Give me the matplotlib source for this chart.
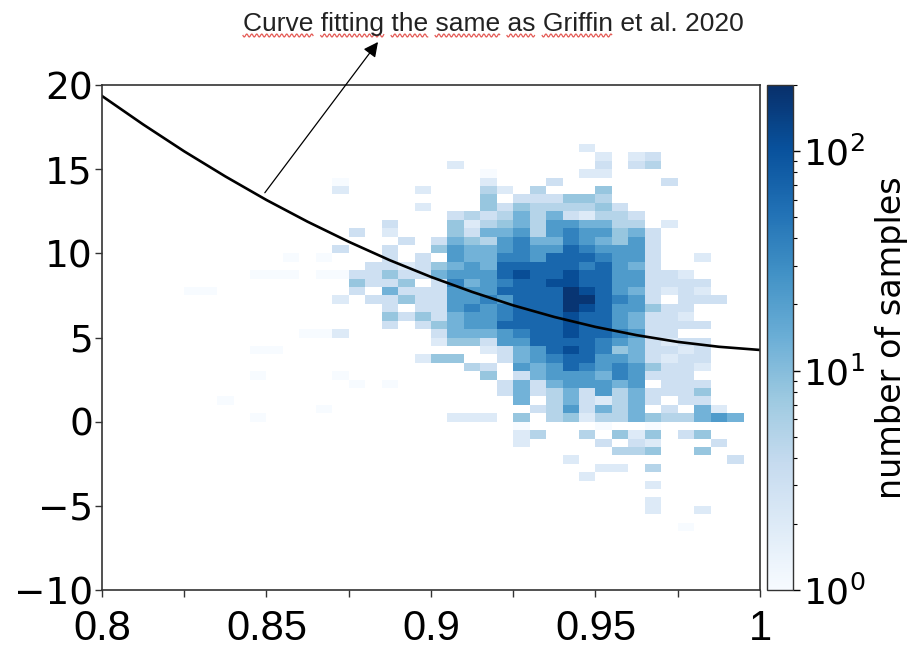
import numpy as np
import matplotlib
matplotlib.use("Agg")
import matplotlib.pyplot as plt
from matplotlib.colors import LogNorm
from matplotlib.lines import Line2D
from matplotlib.textpath import TextToPath
from matplotlib.font_manager import FontProperties

# histogram grid: 40 bins of 0.005 in x, 60 bins of 0.5 in y
x_edges = np.linspace(0.8, 1.0, 41)
y_edges = np.linspace(-10, 20, 61)

# cell levels -> number of samples
level_counts = {'.': 0, '1': 1, '2': 2, '3': 3, '4': 5, '5': 8, '6': 13,
                '7': 22, '8': 38, '9': 65, 'A': 110, 'B': 180}

# one row per y-bin, from y=16..16.5 down to y=-6.5..-6,
# written as four groups of ten x-bins
hist_rows = [
    ".......... .......... .........2 ..........",
    ".......... .......... .......... 2.23......",
    ".......... .......... .2........ 3.34......",
    ".......... .......... ...1.....2 2.........",
    ".......... ....1..... ...2...3.. ....3.....",
    ".......... ....2....2 ...42.4... 5.........",
    ".......... .......... ...5.33355 4.........",
    ".......... .........2 ...5354444 53........",
    ".......... .......... .343464632 443.......",
    ".......... .......3.. .524564776 644.2.....",
    ".......... .....3.2.. .536674787 7563......",
    ".......... ........3. 3654786687 6573......",
    ".......... ....3..3.. 5766787798 7773......",
    ".......... .1.1...3.3 .766887999 8773..2...",
    ".......... ......3323 5676999998 9763......",
    ".........1 11.1133533 67779A99A9 977332....",
    ".......... .....5335. 3867899AA9 9773333...",
    ".....11... .....3.633 37779999BA 9763232...",
    ".......... ....2.3353 37787999BB 9873.333..",
    ".......... .......3.3 37878999BA 977533....",
    ".......... .......535 36778999A9 976332....",
    ".......... .......3.3 56779999A9 9763333...",
    ".......... ..112..... 36667899A9 98733.....",
    ".......... .......... 2553779999 8763233...",
    ".........1 1......... ...23679A9 8563323...",
    ".......... .........2 55..367899 7763233...",
    ".......... .......... ..43.76798 7875332...",
    ".........1 ....1..... ...5.36777 687333....",
    ".......... .....1.1.. ....363677 767.333...",
    ".......... .......... ....363463 7463335...",
    ".......1.. .......... .....6.463 2463.33...",
    ".......... ...1...... ......3473 646.3.62..",
    ".........1 .......... .222.5.452 446544676.",
    ".......... .......... .....1.... 1..1......",
    ".......... .......... .....24..4 .525.35...",
    ".......... .......... .....2.... 3.32...3..",
    ".......... .......... .......... .445..5...",
    ".......... .......... ........2. ........3.",
    ".......... .......... .......... 22.4......",
    ".......... .......... .........2 ..........",
    ".......... .......... .......... ...2......",
    ".......... .......... .......... ..........",
    ".......... .......... .......... ...2......",
    ".......... .......... .......... ...2..2...",
    ".......... .......... .......... ..........",
    ".......... .......... .......... .....1....",
]

curve_x = [0.8, 0.8125, 0.825, 0.8375, 0.85, 0.8625, 0.875, 0.8875, 0.9,
           0.9125, 0.925, 0.9375, 0.95, 0.9625, 0.975, 0.9875, 1.0]
curve_y = [19.35, 17.66, 16.06, 14.57, 13.17, 11.88, 10.69, 9.59, 8.60,
           7.71, 6.91, 6.22, 5.63, 5.14, 4.74, 4.45, 4.26]

x_ticks = [0.8, 0.85, 0.9, 0.95, 1.0]
x_ticklabels = ['0.8', '0.85', '0.9', '0.95', '1']
x_minor = [0.825, 0.875, 0.925, 0.975]
y_ticks = [-10, -5, 0, 5, 10, 15, 20]

note = "Curve fitting the same as Griffin et al. 2020"
flagged_words = ["Curve", "fitting", "the", "same", "as", "Griffin"]

counts = np.zeros((len(y_edges) - 1, len(x_edges) - 1))
top_row = 52
for i, row in enumerate(hist_rows):
    groups = row.split()
    assert len(groups) == 4 and all(len(g) == 10 for g in groups), row
    counts[top_row - i] = [level_counts[ch] for ch in "".join(groups)]

xc = (x_edges[:-1] + x_edges[1:]) / 2
yc = (y_edges[:-1] + y_edges[1:]) / 2
XX, YY = np.meshgrid(xc, yc)

fig = plt.figure(figsize=(9.12, 6.56), dpi=100)
ax = fig.add_axes([0.1118, 0.1006, 0.7215, 0.7698])
cax = fig.add_axes([0.841, 0.1006, 0.0285, 0.7698])

h = ax.hist2d(XX.ravel(), YY.ravel(), bins=[x_edges, y_edges],
              weights=counts.ravel(), cmin=1, cmap='Blues',
              norm=LogNorm(vmin=1, vmax=200))
ax.plot(curve_x, curve_y, color='black', lw=1.9)

ax.set_xlim(0.8, 1.0)
ax.set_ylim(-10, 20)
ax.set_xticks(x_ticks)
ax.set_xticklabels(x_ticklabels, family='Liberation Sans', fontsize=30)
ax.set_xticks(x_minor, minor=True)
ax.set_yticks(y_ticks)
ax.tick_params(axis='x', which='both', length=5, width=1, pad=9, color='#333333')
ax.tick_params(axis='y', length=5, width=1, pad=1.5, labelsize=27, color='#333333')
for sp in ax.spines.values():
    sp.set_linewidth(1.2)
    sp.set_color('#333333')

cb = fig.colorbar(h[3], cax=cax)
cb.outline.set_linewidth(1.0)
cb.outline.set_edgecolor('#333333')
cax.tick_params(which='major', labelsize=26, length=5, width=1, pad=2)
cax.tick_params(which='minor', length=3, width=0.8)
cb.set_label('number of samples', fontsize=24, labelpad=7)

# annotation arrow and text
fig_w, fig_h = fig.get_size_inches() * fig.dpi
ax.annotate('', xy=(378 / fig_w, 1 - 42 / fig_h), xycoords='figure fraction',
            xytext=(0.8495, 13.6), textcoords='data',
            arrowprops=dict(arrowstyle='-|>', lw=0.9, color='black',
                            mutation_scale=22, shrinkA=0, shrinkB=0),
            annotation_clip=False)
note_x, note_base = 243, 30.5
note_prop = FontProperties(family='Liberation Sans', size=19)
fig.text(note_x / fig_w, 1 - note_base / fig_h, note, fontproperties=note_prop,
         ha='left', va='baseline', color='#222222')

# red wavy marks under the flagged words
ttp = TextToPath()
px = fig.dpi / 72.0
start = 0
for word in flagged_words:
    idx = note.index(word, start)
    start = idx + len(word)
    w0 = ttp.get_text_width_height_descent(note[:idx], note_prop, ismath=False)[0] * px
    w1 = ttp.get_text_width_height_descent(note[:start], note_prop, ismath=False)[0] * px
    xs = np.arange(note_x + w0, note_x + w1, 0.5)
    ys = note_base + 5 + 1.5 * np.sin(2 * np.pi * (xs - xs[0]) / 5.0)
    fig.add_artist(Line2D(xs / fig_w, 1 - ys / fig_h, color='#e0403a',
                          lw=0.9, alpha=0.85, transform=fig.transFigure))

fig.savefig('out.png', dpi=100)
